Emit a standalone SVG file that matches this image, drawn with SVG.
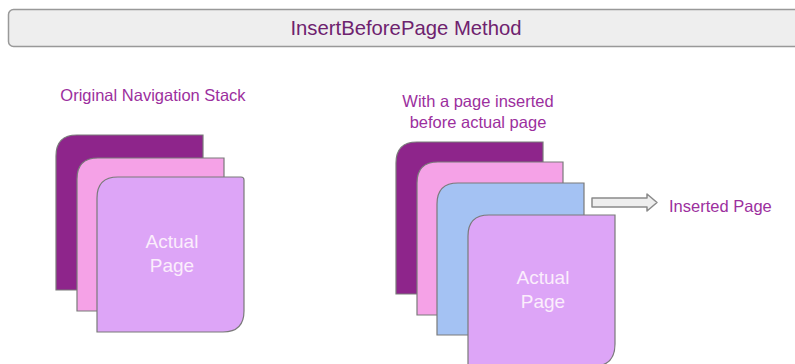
<svg xmlns="http://www.w3.org/2000/svg" width="795" height="364" viewBox="0 0 795 364">
<style>
.pg{stroke:#7a7a7a;stroke-width:1.2}
.dark{fill:#8e258b}
.pink{fill:#f5a2e7}
.lilac{fill:#dda5f7}
.blue{fill:#a4c2f3}
.lbl{font-family:"Liberation Sans",Arial,sans-serif;fill:#9c2f9e;font-size:16.5px}
.pt{font-family:"Liberation Sans",Arial,sans-serif;fill:#fbeefc;font-size:19px;text-anchor:middle}
</style>
<rect width="795" height="364" fill="#ffffff"/>
<g id="title">
<rect x="8.5" y="9.5" width="800" height="37" rx="5" fill="#eeeeee" stroke="#999999" stroke-width="1.5"/>
<text x="406" y="35" font-family="Liberation Sans, Arial, sans-serif" font-size="20.3" fill="#6e226e" text-anchor="middle">InsertBeforePage Method</text>
</g>
<g id="label-original">
<text class="lbl" x="153" y="101" text-anchor="middle">Original Navigation Stack</text>
</g>
<g id="left-page-1">
<path class="pg dark" d="M56 290 V156 Q56 135 77 135 H203 V290 Z"/>
</g>
<g id="left-page-2">
<path class="pg pink" d="M77 311 V179 Q77 158 98 158 H224 V311 Z"/>
</g>
<g id="left-actual">
<path class="pg lilac" d="M97 332 V198 Q97 177 118 177 H241 Q244 177 244 180 V311 Q244 332 223 332 Z"/>
<text class="pt" x="172" y="248">Actual</text>
<text class="pt" x="172" y="272">Page</text>
</g>
<g id="label-with">
<text class="lbl" x="478" y="107" text-anchor="middle">With a page inserted</text>
<text class="lbl" x="478" y="128" text-anchor="middle">before actual page</text>
</g>
<g id="right-page-1">
<path class="pg dark" d="M396 294 V163 Q396 142 417 142 H543 V294 Z"/>
</g>
<g id="right-page-2">
<path class="pg pink" d="M417 315 V183 Q417 162 438 162 H563 V315 Z"/>
</g>
<g id="inserted-page">
<path class="pg blue" d="M437 335 V204 Q437 183 458 183 H584 V335 Z"/>
</g>
<g id="right-actual">
<path class="pg lilac" d="M468 366 V236 Q468 215 489 215 H615 V344 Q615 366 594 366 Z"/>
<text class="pt" x="543" y="284">Actual</text>
<text class="pt" x="543" y="308">Page</text>
</g>
<g id="connectors">
<path d="M592 198 H647 V194 L657 202.5 L647 211 V207 H592 Z" fill="#eeeeee" stroke="#8a8a8a" stroke-width="1.5" stroke-linejoin="round"/>
</g>
<g id="label-inserted">
<text class="lbl" x="669" y="212" font-size="17.3">Inserted Page</text>
</g>
</svg>
